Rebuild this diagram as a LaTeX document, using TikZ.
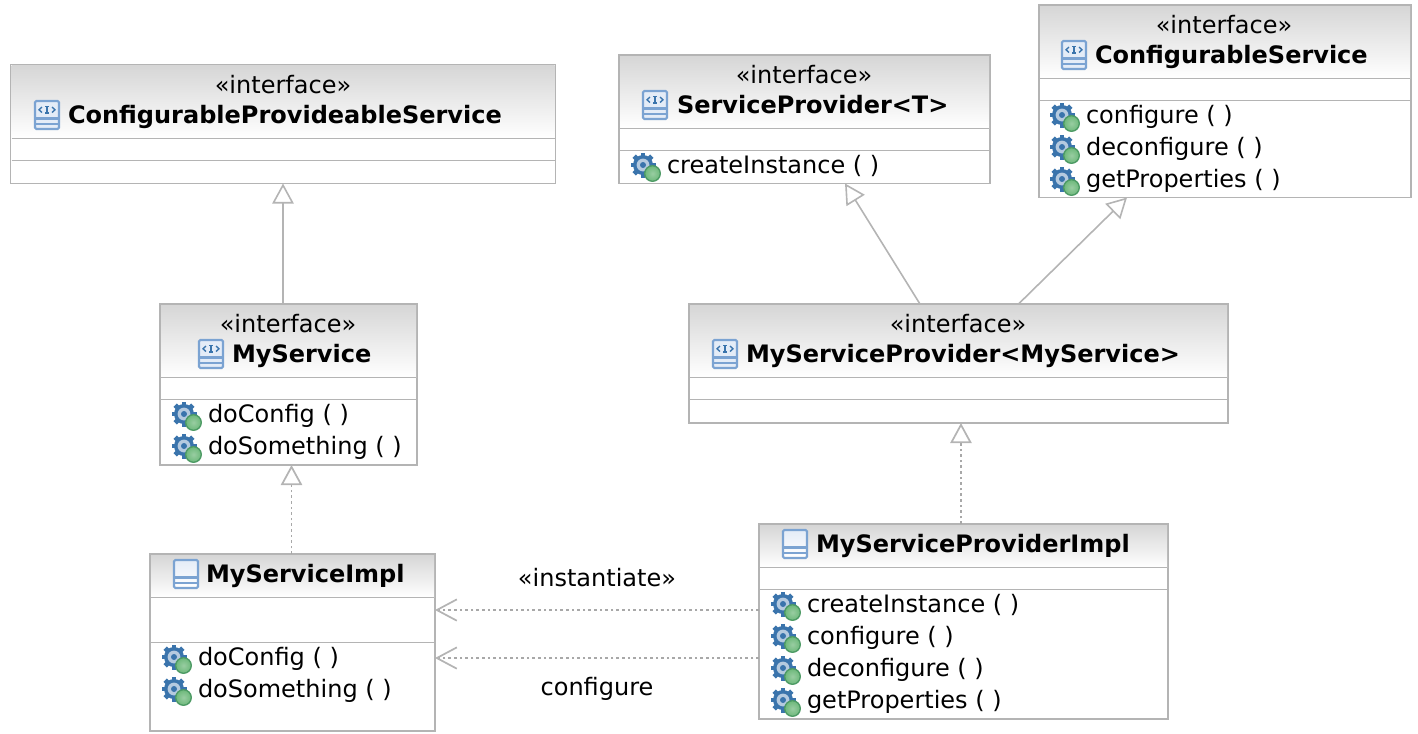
\documentclass[tikz,border=0pt]{standalone}
\usepackage{fontspec}
\setmainfont{DejaVu Sans}
\usetikzlibrary{arrows.meta,fit}

\definecolor{umlline}{HTML}{B4B4B4}
\definecolor{umlhead}{HTML}{D6D6D6}
\definecolor{umldots}{HTML}{A8A8A8}
\definecolor{iconblue}{HTML}{7BA3D2}
\definecolor{iconfill}{HTML}{E4ECF7}
\definecolor{gearblue}{HTML}{3A74AC}
\definecolor{gearpale}{HTML}{B5CADF}
\definecolor{ballgreen}{HTML}{6DB87A}
\definecolor{balledge}{HTML}{4C9A64}

\tikzset{
    umltext/.style={inner sep=0pt, outer sep=0pt, text=black, font=\fontsize{18}{20}\selectfont},
    boxframe/.style={draw=umlline, line width=1.4, fill=white, inner sep=0pt, outer sep=0pt},
    boxhead/.style={top color=umlhead, bottom color=white, inner sep=0pt, outer sep=0pt},
    divider/.style={draw=umlline, line width=0.6},
    inherit/.style={draw=umlline, line width=1.2, -{Triangle[open, fill=white, length=15pt, width=16pt]}},
    realize/.style={draw=umldots, line width=1.3, dash pattern=on 2pt off 2.2pt, -{Triangle[open, fill=white, color=umlline, length=15pt, width=16pt]}},
    depend/.style={draw=umldots, line width=1.3, dash pattern=on 2pt off 2.2pt, -{Straight Barb[color=umlline, length=15pt, width=16pt]}},
    classicon/.pic={
        \draw[iconblue, line width=1.6, rounded corners=1, top color=iconfill, bottom color=white] (-12,-14) rectangle (12,14);
        \draw[iconblue, line width=1.6] (-12,3.5) -- (12,3.5);
        \draw[iconblue, line width=1.6] (-12,9) -- (12,9);
    },
    ifaceicon/.pic={
        \draw[iconblue, line width=1.6, rounded corners=1, fill=iconfill] (-12,-14) rectangle (12,14);
        \draw[iconblue, line width=1.6] (-12,3.5) -- (12,3.5);
        \draw[iconblue, line width=1.6] (-12,9) -- (12,9);
        \draw[gearblue, line width=1] (-1.8,-8.5) -- (1.8,-8.5) (0,-8.5) -- (0,-2) (-1.8,-2) -- (1.8,-2);
        \draw[gearblue, line width=1] (-5,-8) -- (-8,-5.2) -- (-5,-2.5) (5,-8) -- (8,-5.2) -- (5,-2.5);
    },
    gearicon/.pic={
        \foreach \a in {0,45,...,315}
            \fill[gearblue, shift={(-3,-2)}, rotate=\a] (-2.4,-12.5) rectangle (2.4,-7);
        \fill[gearblue] (-3,-2) circle (10);
        \fill[gearpale] (-3,-2) circle (6.4);
        \fill[gearblue] (-3,-2) circle (3);
        \draw[balledge, inner color=ballgreen!70!white, outer color=ballgreen, line width=1] (6.5,6.5) circle (7.8);
    },
}

% frame, shaded head and the two dividers of one box
\newcommand{\umlbox}[7]{
    \node[boxframe, fit={(#2,#3) (#4,#5)}] (#1) {};
    \node[boxhead, fit={({#2+1},{#3+1}) ({#4-1},#6)}] (#1head) {};
    \draw[divider] (#1head.south west) -- (#1head.south east);
    \draw[divider] ({#2+1},#7) -- ({#4-1},#7);
}
\newcommand{\oprow}[4]{
    \pic at ({#2-21},{#3-6}) {gearicon};
    \node[umltext, anchor=base west] (#1) at (#2,#3) {#4};
}

\begin{document}
\begin{tikzpicture}[x=0.75pt, y=-0.75pt]
\useasboundingbox (0,0) rectangle (1418,733);

% Interfaces
\umlbox{ConfProv}{10.5}{64.5}{555.5}{183.5}{138}{160}
\node[umltext, anchor=base] (ConfProvStereo) at (283,93) {«interface»};
\pic at (47,115) {ifaceicon};
\node[umltext, anchor=base west] (ConfProvName) at (68,123) {\textbf{ConfigurableProvideableService}};

\umlbox{SvcProv}{619}{55}{990}{183.5}{128}{150}
\node[umltext, anchor=base] (SvcProvStereo) at (804,83) {«interface»};
\pic at (655,105) {ifaceicon};
\node[umltext, anchor=base west] (SvcProvName) at (677,113) {\textbf{ServiceProvider<T>}};
\oprow{SvcProvOpA}{667}{173}{createInstance ( )}

\umlbox{ConfSvc}{1039}{5}{1411}{197.5}{78}{100}
\node[umltext, anchor=base] (ConfSvcStereo) at (1224,33) {«interface»};
\pic at (1074,55) {ifaceicon};
\node[umltext, anchor=base west] (ConfSvcName) at (1095,63) {\textbf{ConfigurableService}};
\oprow{ConfSvcOpA}{1086}{123}{configure ( )}
\oprow{ConfSvcOpB}{1086}{155}{deconfigure ( )}
\oprow{ConfSvcOpC}{1086}{187}{getProperties ( )}

\umlbox{MySvc}{160}{304}{417}{465}{377}{399}
\node[umltext, anchor=base] (MySvcStereo) at (288,332) {«interface»};
\pic at (211,354) {ifaceicon};
\node[umltext, anchor=base west] (MySvcName) at (232,362) {\textbf{MyService}};
\oprow{MySvcOpA}{208}{422}{doConfig ( )}
\oprow{MySvcOpB}{208}{454}{doSomething ( )}

\umlbox{MyProv}{689}{304}{1228}{423}{377}{399}
\node[umltext, anchor=base] (MyProvStereo) at (958,332) {«interface»};
\pic at (725,354) {ifaceicon};
\node[umltext, anchor=base west] (MyProvName) at (746,362) {\textbf{MyServiceProvider<MyService>}};

% Implementations
\umlbox{SvcImpl}{150}{554}{435}{731}{597}{642}
\pic at (186,574) {classicon};
\node[umltext, anchor=base west] (SvcImplName) at (206,582) {\textbf{MyServiceImpl}};
\oprow{SvcImplOpA}{198}{665}{doConfig ( )}
\oprow{SvcImplOpB}{198}{697}{doSomething ( )}

\umlbox{ProvImpl}{759}{524}{1168}{719}{567}{589}
\pic at (795,544) {classicon};
\node[umltext, anchor=base west] (ProvImplName) at (816,552) {\textbf{MyServiceProviderImpl}};
\oprow{ProvImplOpA}{807}{612}{createInstance ( )}
\oprow{ProvImplOpB}{807}{644}{configure ( )}
\oprow{ProvImplOpC}{807}{676}{deconfigure ( )}
\oprow{ProvImplOpD}{807}{708}{getProperties ( )}

% Relations
\draw[inherit] (MySvc.north -| ConfProv.south) -- (ConfProv.south);
\draw[inherit] ([xshift=-28.9pt]MyProv.north) -- ([xshift=30.4pt]SvcProv.south);
\draw[inherit] ([xshift=45pt]MyProv.north) -- ([xshift=66pt]ConfSvc.south west);
\draw[realize] ([xshift=-0.75pt]SvcImpl.north) -- ([xshift=-0.75pt]SvcImpl.north |- MySvc.south);
\draw[realize] ([xshift=-1.9pt]ProvImpl.north) -- ([xshift=-1.9pt]ProvImpl.north |- MyProv.south);
\draw[depend] ([yshift=8.6pt]ProvImpl.west) -- node[umltext, midway, yshift=24.5pt] (InstLabel) {«instantiate»} ([yshift=8.6pt]ProvImpl.west -| SvcImpl.east);
\draw[depend] ([yshift=-27.4pt]ProvImpl.west) -- node[umltext, midway, yshift=-23pt] (ConfLabel) {configure} ([yshift=-27.4pt]ProvImpl.west -| SvcImpl.east);
\end{tikzpicture}
\end{document}
